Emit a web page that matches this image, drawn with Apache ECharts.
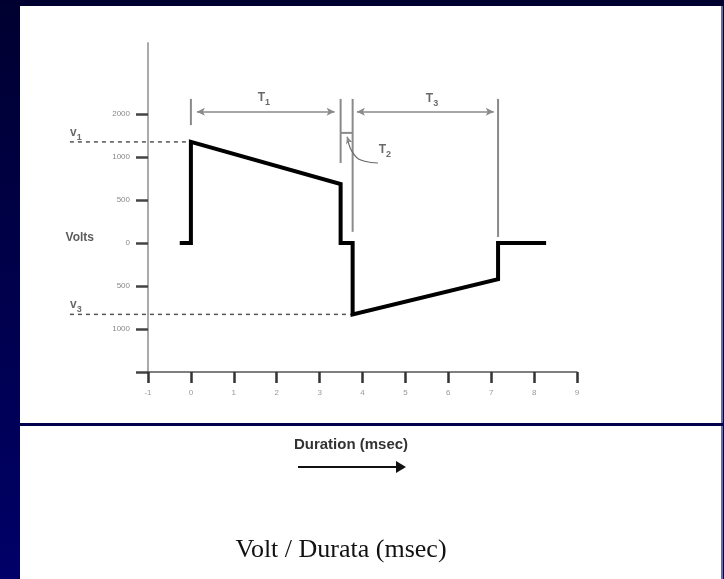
<!DOCTYPE html>
<html>
<head>
<meta charset="utf-8">
<script src="https://cdn.jsdelivr.net/npm/echarts@6/dist/echarts.min.js"></script>
<style>
html, body { margin: 0; padding: 0; width: 724px; height: 579px; overflow: hidden; background: linear-gradient(#000030, #000068); }
#panel { position: absolute; left: 20px; top: 6px; width: 701px; height: 573px; background: #fff; border-right: 2px solid #6c6c92; }
#rule { position: absolute; left: 20px; top: 423px; width: 703px; height: 3px; background: #00004c; }
#chart { position: absolute; left: 0; top: 0; width: 724px; height: 579px; }
</style>
</head>
<body>
<div id="panel"></div>
<div id="rule"></div>
<div id="chart"></div>
<script>
// pulse shape: time in msec, amplitude in axis steps (one step per labelled tick)
var timeMs    = [-0.26, 0, 0, 3.49, 3.49, 3.77, 3.77, 7.16, 7.16, 8.28];
var voltSteps = [0, 0, 2.35, 1.37, 0, 0, -1.66, -0.84, 0, 0];

var xTicks = [-1, 0, 1, 2, 3, 4, 5, 6, 7, 8, 9];
var yTickSteps  = [-3, -2, -1, 0, 1, 2, 3];
var yLabelSteps = [-2, -1, 0, 1, 2, 3];
var yTickLabels = ['1000', '500', '0', '500', '1000', '2000'];

// phase boundaries taken from the pulse
var t1Start = timeMs[1], t1End = timeMs[3], t2End = timeMs[5], t3End = timeMs[7];
var v1 = voltSteps[2], v3 = voltSteps[6];

var myChart = echarts.init(document.getElementById('chart'), null, { renderer: 'canvas' });

var grey = '#8a8a8a';

function seg(points, style, smooth) {
  return {
    type: 'line', data: points, symbol: 'none', clip: false, silent: true,
    smooth: !!smooth, lineStyle: style, animation: false, z: 2
  };
}

function arrow(x0, x1, y) {
  return [{ coord: [x0, y] }, { coord: [x1, y] }];
}

var thin = { color: grey, width: 2 };

var labelSeries = {
  type: 'scatter', symbolSize: 0, clip: false, silent: true, animation: false,
  label: {
    show: true, position: 'inside', color: '#444',
    rich: {
      m: { fontSize: 12, fontWeight: 'bold', color: '#444', fontFamily: 'Arial' },
      s: { fontSize: 9, fontWeight: 'bold', color: '#444', fontFamily: 'Arial', padding: [9, 0, 0, 0] },
      vol: { fontSize: 12, fontWeight: 'bold', color: '#333', fontFamily: 'Arial' }
    }
  },
  data: [
    { value: [1.70, 3.37], label: { formatter: '{m|T}{s|1}' } },
    { value: [5.62, 3.35], label: { formatter: '{m|T}{s|3}' } },
    { value: [4.52, 2.16], label: { formatter: '{m|T}{s|2}' } },
    { value: [-2.68, v1 + 0.21], label: { formatter: '{m|v}{s|1}' } },
    { value: [-2.68, v3 + 0.22], label: { formatter: '{m|v}{s|3}' } },
    { value: [-2.59, 0.12], label: { formatter: '{vol|Volts}' } }
  ]
};

var option = {
  animation: false,
  grid: { left: 148, right: 147, top: 43, bottom: 207 },
  xAxis: {
    type: 'value', min: -1, max: 9, interval: 1,
    axisLine: { onZero: false, lineStyle: { color: '#555', width: 1.5 } },
    axisTick: { length: 11, lineStyle: { color: '#333', width: 2.5 } },
    axisLabel: { margin: 17, fontSize: 8, color: '#999', fontFamily: 'Arial' },
    splitLine: { show: false }
  },
  yAxis: {
    type: 'value', min: -3, max: 4.65,
    axisLine: { show: true, onZero: false, lineStyle: { color: '#aaa', width: 2 } },
    axisTick: { show: true, customValues: yTickSteps, length: 12, lineStyle: { color: '#444', width: 2.5 } },
    axisLabel: {
      customValues: yLabelSteps, margin: 18, fontSize: 8, color: '#888', fontFamily: 'Arial',
      formatter: function (v) {
        var i = yLabelSteps.indexOf(Math.round(v));
        return i < 0 ? '' : yTickLabels[i];
      }
    },
    splitLine: { show: false }
  },
  series: [
    // dimension markers
    seg([[t1Start, 3.35], [t1Start, 2.74]], thin),
    seg([[t1End, 3.35], [t1End, 1.86]], thin),
    seg([[t2End, 3.35], [t2End, 0.26]], thin),
    seg([[t3End, 3.35], [t3End, 0.14]], thin),
    seg([[t1End, 2.56], [t2End, 2.56]], thin),
    // curved leader pointing at the T2 gap
    seg([[3.66, 2.40], [3.80, 2.06], [4.05, 1.90], [4.36, 1.86]], { color: '#666', width: 1.2 }, 0.5),
    {
      type: 'line', data: [], silent: true, animation: false,
      markLine: {
        silent: true, symbol: ['arrow', 'arrow'], symbolSize: [6, 8],
        label: { show: false },
        lineStyle: { color: grey, width: 1.5, type: 'solid' },
        data: [
          arrow(t1Start + 0.14, t1End - 0.14, 3.05),
          arrow(t2End + 0.1, t3End - 0.1, 3.05),
          [{ coord: [3.67, 2.38], symbol: 'none' }, { coord: [3.64, 2.47], symbolSize: [5, 7] }]
        ]
      }
    },
    // the pulse itself
    {
      type: 'line', data: timeMs.map(function (t, i) { return [t, voltSteps[i]]; }),
      symbol: 'none', z: 5,
      lineStyle: { color: '#000', width: 4, join: 'miter' }
    },
    labelSeries
  ],
  graphic: [
    { type: 'text', x: 351, y: 437,
      style: { text: 'Duration (msec)', font: 'bold 15px Arial', fill: '#333', textAlign: 'center' } },
    { type: 'line', shape: { x1: 298, y1: 467, x2: 398, y2: 467 }, style: { stroke: '#111', lineWidth: 2 } },
    { type: 'polygon', shape: { points: [[396, 461], [406, 467], [396, 473]] }, style: { fill: '#111' } },
    { type: 'text', x: 341, y: 550,
      style: { text: 'Volt / Durata (msec)', font: '26px "Liberation Serif", "Times New Roman", serif',
               fill: '#111', textAlign: 'center', textVerticalAlign: 'middle' } }
  ]
};

myChart.setOption(option);

// dashed guides for v1 and v3 run out past the axis, so place them through the scales
function guide(x0, x1, y) {
  var a = myChart.convertToPixel({ gridIndex: 0 }, [x0, y]);
  var b = myChart.convertToPixel({ gridIndex: 0 }, [x1, y]);
  return {
    type: 'line', z: 1, shape: { x1: a[0], y1: a[1], x2: b[0], y2: b[1] },
    style: { stroke: '#555', lineWidth: 1.5, lineDash: [4, 4] }
  };
}
option.graphic.push(guide(-2.82, t1Start, v1), guide(-2.82, t2End, v3));
myChart.setOption({ graphic: option.graphic });
</script>
</body>
</html>
